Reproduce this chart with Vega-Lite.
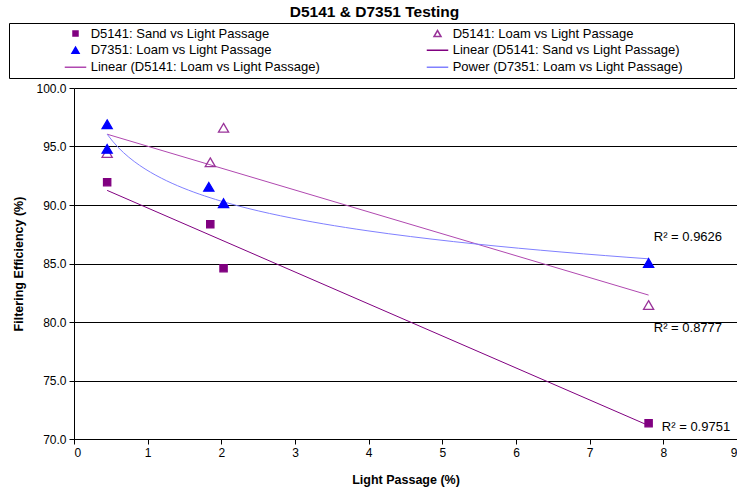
{
  "$schema": "https://vega.github.io/schema/vega-lite/v6.json",
  "width": 663,
  "height": 351,
  "autosize": "none",
  "padding": {"left": 74, "top": 88, "right": 0, "bottom": 56},
  "background": "white",
  "title": {"text": "D5141 & D7351 Testing", "fontSize": 15.5, "fontWeight": "bold", "font": "Liberation Sans", "color": "black", "anchor": "middle", "offset": 2, "dx": -31},
  "config": {
    "view": {"stroke": null},
    "axis": {
      "domainColor": "black", "tickColor": "black", "gridColor": "black", "gridOpacity": 1, "gridWidth": 1,
      "labelFont": "Liberation Sans", "labelFontSize": 12, "labelColor": "black",
      "titleFont": "Liberation Sans", "titleFontSize": 12.5, "titleFontWeight": "bold", "titleColor": "black"
    },
    "text": {"font": "Liberation Sans"}
  },
  "datasets": {
    "pts": [
      {"series": "D5141: Sand vs Light Passage", "x": 0.45, "y": 91.95},
      {"series": "D5141: Sand vs Light Passage", "x": 1.85, "y": 88.35},
      {"series": "D5141: Sand vs Light Passage", "x": 2.03, "y": 84.6},
      {"series": "D5141: Sand vs Light Passage", "x": 7.8, "y": 71.35},
      {"series": "D5141: Loam vs Light Passage", "x": 0.45, "y": 94.45},
      {"series": "D5141: Loam vs Light Passage", "x": 1.85, "y": 93.65},
      {"series": "D5141: Loam vs Light Passage", "x": 2.03, "y": 96.6},
      {"series": "D5141: Loam vs Light Passage", "x": 7.8, "y": 81.45},
      {"series": "D7351: Loam vs Light Passage", "x": 0.45, "y": 96.9},
      {"series": "D7351: Loam vs Light Passage", "x": 0.45, "y": 94.8},
      {"series": "D7351: Loam vs Light Passage", "x": 1.83, "y": 91.55},
      {"series": "D7351: Loam vs Light Passage", "x": 2.03, "y": 90.15},
      {"series": "D7351: Loam vs Light Passage", "x": 7.8, "y": 85.05}
    ],
    "trend": [
      {"trend": "Linear (D5141: Sand vs Light Passage)", "x": 0.45, "y": 91.25},
      {"trend": "Linear (D5141: Sand vs Light Passage)", "x": 7.8, "y": 71.15},
      {"trend": "Linear (D5141: Loam vs Light Passage)", "x": 0.45, "y": 96.05},
      {"trend": "Linear (D5141: Loam vs Light Passage)", "x": 7.8, "y": 82.3}
    ],
    "r2": [
      {"x": 7.87, "y": 87.3, "label": "R² = 0.9626"},
      {"x": 7.87, "y": 79.5, "label": "R² = 0.8777"},
      {"x": 7.98, "y": 71.0, "label": "R² = 0.9751"}
    ]
  },
  "layer": [
    {
      "data": {"name": "trend"},
      "transform": [{"filter": "datum.trend == 'Linear (D5141: Sand vs Light Passage)'"}],
      "mark": {"type": "line", "stroke": "#800080", "strokeWidth": 1},
      "encoding": {
        "x": {"field": "x", "type": "quantitative"},
        "y": {"field": "y", "type": "quantitative"}
      }
    },
    {
      "data": {"name": "trend"},
      "transform": [{"filter": "datum.trend == 'Linear (D5141: Loam vs Light Passage)'"}],
      "mark": {"type": "line", "stroke": "#B048B0", "strokeWidth": 1},
      "encoding": {
        "x": {"field": "x", "type": "quantitative"},
        "y": {"field": "y", "type": "quantitative"}
      }
    },
    {
      "data": {"name": "pts"},
      "transform": [
        {"filter": "datum.series == 'D7351: Loam vs Light Passage'"},
        {"regression": "y", "on": "x", "method": "pow"}
      ],
      "mark": {"type": "line", "stroke": "#8080FF", "strokeWidth": 1},
      "encoding": {
        "x": {"field": "x", "type": "quantitative"},
        "y": {"field": "y", "type": "quantitative"}
      }
    },
    {
      "data": {"name": "pts"},
      "mark": {"type": "point", "strokeWidth": 1.3, "opacity": 1, "size": 210},
      "encoding": {
        "x": {
          "field": "x", "type": "quantitative",
          "scale": {"domain": [0, 9], "nice": false, "zero": false},
          "axis": {"title": "Light Passage (%)", "values": [0,1,2,3,4,5,6,7,8,9], "format": "d", "grid": false, "tickSize": 5, "labelPadding": 3, "titlePadding": 15}
        },
        "y": {
          "field": "y", "type": "quantitative",
          "scale": {"domain": [70, 100], "nice": false, "zero": false},
          "axis": {"title": "Filtering Efficiency (%)", "values": [70,75,80,85,90,95,100], "format": ".1f", "grid": true, "tickSize": 5, "labelPadding": 3, "titlePadding": 10}
        },
        "fill": {
          "field": "series", "type": "nominal",
          "scale": {
            "domain": ["D5141: Sand vs Light Passage", "D5141: Loam vs Light Passage", "D7351: Loam vs Light Passage", "Linear (D5141: Sand vs Light Passage)", "Linear (D5141: Loam vs Light Passage)", "Power (D7351: Loam vs Light Passage)"],
            "range": ["#800080", "transparent", "#0000FF", "transparent", "transparent", "transparent"]
          },
          "legend": {
            "title": " ", "titleOrient": "right", "titlePadding": 50, "titleFontSize": 10,
            "orient": "none", "legendX": -65, "legendY": -65,
            "direction": "horizontal",
            "columns": 2, "columnPadding": 53, "rowPadding": 0,
            "clipHeight": 16.5, "padding": 2,
            "strokeColor": "black", "fillColor": "white",
            "symbolOffset": 58, "labelOffset": 8.7,
            "labelFont": "Liberation Sans", "labelFontSize": 13, "labelColor": "black", "labelLimit": 400,
            "symbolStrokeWidth": 1.5
          }
        },
        "stroke": {
          "field": "series", "type": "nominal",
          "scale": {
            "domain": ["D5141: Sand vs Light Passage", "D5141: Loam vs Light Passage", "D7351: Loam vs Light Passage", "Linear (D5141: Sand vs Light Passage)", "Linear (D5141: Loam vs Light Passage)", "Power (D7351: Loam vs Light Passage)"],
            "range": ["#800080", "#993399", "#0000FF", "#800080", "#B048B0", "#8080FF"]
          }
        },
        "shape": {
          "field": "series", "type": "nominal",
          "scale": {
            "domain": ["D5141: Sand vs Light Passage", "D5141: Loam vs Light Passage", "D7351: Loam vs Light Passage", "Linear (D5141: Sand vs Light Passage)", "Linear (D5141: Loam vs Light Passage)", "Power (D7351: Loam vs Light Passage)"],
            "range": ["M-0.5,-0.5H0.5V0.5H-0.5Z", "M0,-0.6L0.7,0.6L-0.7,0.6Z", "M0,-0.6L0.7,0.6L-0.7,0.6Z", "M-2.15,0H2.15", "M-2.15,0H2.15", "M-2.15,0H2.15"]
          }
        }
      }
    },
    {
      "data": {"name": "r2"},
      "mark": {"type": "text", "align": "left", "baseline": "middle", "fontSize": 13, "color": "black"},
      "encoding": {
        "x": {"field": "x", "type": "quantitative"},
        "y": {"field": "y", "type": "quantitative"},
        "text": {"field": "label"}
      }
    }
  ]
}
